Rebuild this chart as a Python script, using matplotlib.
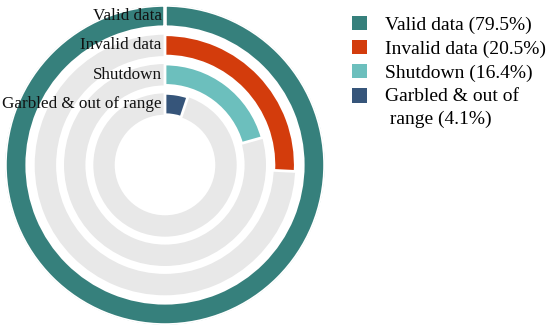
import numpy as np
import matplotlib.pyplot as plt
from matplotlib.patches import Patch

# Data
labels = ['Valid data', 'Invalid data', 'Shutdown', 'Garbled & out of range']
legend_labels = ['Valid data (79.5%)', 'Invalid data (20.5%)', 'Shutdown (16.4%)',
                 'Garbled & out of\n range (4.1%)']
values = [79.5, 20.5, 16.4, 4.1]
colors = ['#36807c', '#d33c0c', '#6cbfbd', '#36557a']

plt.rcParams['font.family'] = ['Liberation Serif', 'DejaVu Serif']

fig = plt.figure(figsize=(5.5, 3.3), dpi=100)
ax = fig.add_axes([0.009, 0.015, 0.582, 0.97], projection='polar')
ax.set_theta_zero_location('N')
ax.set_theta_direction(-1)

vmax = max(values)
radii = [5.08, 4.08, 3.08, 2.08]
thetas = [v / vmax * 2 * np.pi for v in values]
h = 0.73

# grey tracks
ax.bar(np.pi, h, width=2 * np.pi, bottom=np.array(radii) - h / 2, color='#e8e8e8',
       edgecolor='white', linewidth=0)
# coloured bars
for r, t, c in zip(radii, thetas, colors):
    ax.bar(t / 2, h, width=t, bottom=r - h / 2, color=c, edgecolor='white', linewidth=2)

for r, lab in zip(radii, labels):
    ax.annotate(lab, xy=(0, r), xytext=(-2.5, 0), textcoords='offset points',
                ha='right', va='center', fontsize=12.3, color='#111111')

ax.set_ylim(0, 5.46)
ax.set_axis_off()

handles = [Patch(facecolor=c, edgecolor='none') for c in colors]
leg = fig.legend(handles, legend_labels, loc='upper left', bbox_to_anchor=(0.64, 0.952),
                 frameon=False, fontsize=14, handlelength=0.77, handleheight=0.77,
                 handletextpad=0.95, labelspacing=0.3, borderpad=0, borderaxespad=0)
for t in leg.get_texts():
    t.set_linespacing(1.45)
# align the last square with the first line of its wrapped label
last = leg.get_patches()[-1]
last.set_y(last.get_y() + 8.7)

fig.savefig('out.png', dpi=100)
